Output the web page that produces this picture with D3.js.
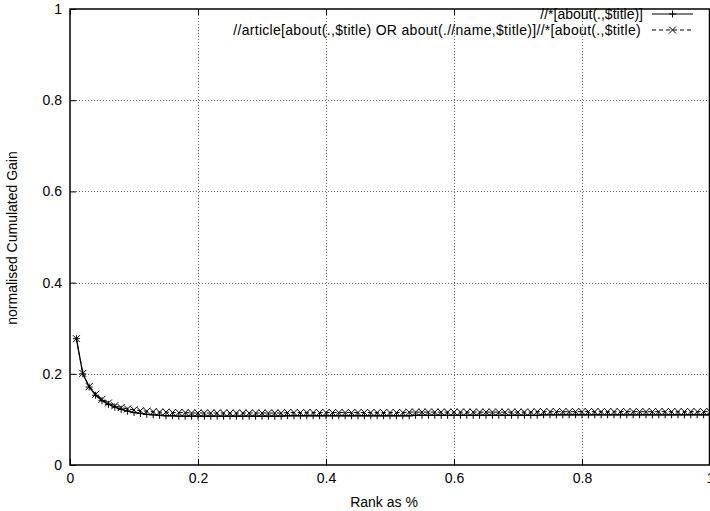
<!DOCTYPE html>
<html>
<head>
<meta charset="utf-8">
<script src="https://cdn.jsdelivr.net/npm/d3@7"></script>
<style>
  body { margin: 0; background: #fff; }
  text { font-family: "Liberation Sans", Arial, Helvetica, sans-serif; font-size: 14px; fill: #000; }
</style>
</head>
<body>
<div id="graphContainer"></div>
<script>
// rank as % (x axis)
var rank = [0.01,0.02,0.03,0.04,0.05,0.06,0.07,0.08,0.09,0.10,
  0.11,0.12,0.13,0.14,0.15,0.16,0.17,0.18,0.19,0.20,
  0.21,0.22,0.23,0.24,0.25,0.26,0.27,0.28,0.29,0.30,
  0.31,0.32,0.33,0.34,0.35,0.36,0.37,0.38,0.39,0.40,
  0.41,0.42,0.43,0.44,0.45,0.46,0.47,0.48,0.49,0.50,
  0.51,0.52,0.53,0.54,0.55,0.56,0.57,0.58,0.59,0.60,
  0.61,0.62,0.63,0.64,0.65,0.66,0.67,0.68,0.69,0.70,
  0.71,0.72,0.73,0.74,0.75,0.76,0.77,0.78,0.79,0.80,
  0.81,0.82,0.83,0.84,0.85,0.86,0.87,0.88,0.89,0.90,
  0.91,0.92,0.93,0.94,0.95,0.96,0.97,0.98,0.99,1.00];

// //*[about(.,$title)]
var gainPlain = [0.277,0.200,0.171,0.153,0.141,0.133,0.127,0.122,0.118,0.115,
  0.113,0.111,0.110,0.109,0.108,0.108,0.107,0.107,0.107,0.107,
  0.107,0.107,0.107,0.107,0.107,0.107,0.107,0.107,0.107,0.107,
  0.107,0.107,0.107,0.108,0.108,0.108,0.108,0.108,0.108,0.108,
  0.108,0.108,0.108,0.108,0.108,0.108,0.108,0.108,0.108,0.108,
  0.108,0.108,0.108,0.109,0.109,0.109,0.109,0.109,0.109,0.109,
  0.109,0.109,0.109,0.109,0.109,0.109,0.109,0.109,0.109,0.109,
  0.109,0.109,0.109,0.110,0.110,0.110,0.110,0.110,0.110,0.110,
  0.110,0.110,0.110,0.110,0.110,0.110,0.110,0.110,0.110,0.110,
  0.110,0.110,0.110,0.110,0.110,0.110,0.110,0.110,0.110,0.110];

// //article[...]//*[about(.,$title)
var gainArticle = [0.277,0.201,0.172,0.155,0.144,0.136,0.130,0.126,0.123,0.121,
  0.119,0.118,0.117,0.116,0.116,0.115,0.115,0.115,0.114,0.114,
  0.114,0.114,0.114,0.114,0.114,0.114,0.114,0.114,0.114,0.114,
  0.114,0.114,0.114,0.115,0.115,0.115,0.115,0.115,0.115,0.115,
  0.115,0.115,0.115,0.115,0.115,0.115,0.115,0.115,0.115,0.115,
  0.115,0.115,0.116,0.116,0.116,0.116,0.116,0.116,0.116,0.116,
  0.116,0.116,0.116,0.116,0.116,0.116,0.116,0.116,0.116,0.116,
  0.116,0.116,0.117,0.117,0.117,0.117,0.117,0.117,0.117,0.117,
  0.117,0.117,0.117,0.117,0.117,0.117,0.117,0.117,0.117,0.117,
  0.117,0.117,0.117,0.117,0.117,0.117,0.117,0.117,0.117,0.117];

var seriesNames = ["//*[about(.,$title)]",
  "//article[about(.,$title) OR about(.//name,$title)]//*[about(.,$title)"];

var xTicks = [0, 0.2, 0.4, 0.6, 0.8, 1];
var yTicks = [0, 0.2, 0.4, 0.6, 0.8, 1];

var width = 710, height = 511;
var plotLeft = 70, plotRight = 709.5, plotTop = 9, plotBottom = 465;

var x = d3.scaleLinear().domain([0, 1]).range([plotLeft, 710]);
var y = d3.scaleLinear().domain([0, 1]).range([plotBottom, plotTop]);

var svg = d3.select("#graphContainer")
  .append("svg")
    .attr("width", width)
    .attr("height", height);

// grid
var grid = svg.append("g")
  .attr("stroke", "#666")
  .attr("stroke-width", 1)
  .attr("stroke-dasharray", "1,2");
grid.selectAll(".gx")
  .data(xTicks.filter(function(d) { return d > 0 && d < 1; }))
  .enter().append("line")
    .attr("x1", function(d) { return Math.round(x(d)) + 0.5; })
    .attr("x2", function(d) { return Math.round(x(d)) + 0.5; })
    .attr("y1", plotTop)
    .attr("y2", plotBottom);
grid.selectAll(".gy")
  .data(yTicks.filter(function(d) { return d > 0 && d < 1; }))
  .enter().append("line")
    .attr("x1", plotLeft)
    .attr("x2", plotRight)
    .attr("y1", function(d) { return Math.round(y(d)) + 0.5; })
    .attr("y2", function(d) { return Math.round(y(d)) + 0.5; });

// axes, ticks pointing inward like gnuplot
function styleAxis(g) {
  g.attr("font-size", null).attr("font-family", null);
  g.select(".domain").remove();
  g.selectAll(".tick line").attr("stroke", "#000");
}

svg.append("g")
  .attr("transform", "translate(0," + plotBottom + ")")
  .call(d3.axisBottom(x).tickValues(xTicks).tickSize(-6).tickPadding(8)
    .tickFormat(d3.format("")))
  .call(styleAxis);

svg.append("g")
  .attr("transform", "translate(0," + plotTop + ")")
  .call(d3.axisTop(x).tickValues(xTicks).tickSize(-6).tickFormat(""))
  .call(styleAxis);

svg.append("g")
  .attr("transform", "translate(" + plotLeft + ",0)")
  .call(d3.axisLeft(y).tickValues(yTicks).tickSize(-6).tickPadding(8)
    .tickFormat(d3.format("")))
  .call(styleAxis);

// border
svg.append("rect")
  .attr("x", plotLeft)
  .attr("y", plotTop)
  .attr("width", plotRight - plotLeft)
  .attr("height", plotBottom - plotTop)
  .attr("fill", "none")
  .attr("stroke", "#000")
  .attr("stroke-width", 1.5);

// axis titles
svg.append("text")
  .attr("x", 384)
  .attr("y", 507)
  .attr("text-anchor", "middle")
  .text("Rank as %");

svg.append("text")
  .attr("transform", "translate(17,238) rotate(-90)")
  .attr("text-anchor", "middle")
  .text("normalised Cumulated Gain");

// series
var line = d3.line()
  .x(function(d) { return x(d[0]); })
  .y(function(d) { return y(d[1]); });

var plainData = rank.map(function(r, i) { return [r, gainPlain[i]]; });
var articleData = rank.map(function(r, i) { return [r, gainArticle[i]]; });

var plot = svg.append("g");

plot.append("path")
  .datum(articleData)
  .attr("d", line)
  .attr("fill", "none")
  .attr("stroke", "#000")
  .attr("stroke-width", 1)
  .attr("stroke-dasharray", "4,3");

plot.append("path")
  .datum(plainData)
  .attr("d", line)
  .attr("fill", "none")
  .attr("stroke", "#000")
  .attr("stroke-width", 1.3);

var s = 3.5;
function plusPath(cx, cy) {
  return "M" + (cx - s) + "," + cy + "H" + (cx + s) + "M" + cx + "," + (cy - s) + "V" + (cy + s);
}
function crossPath(cx, cy) {
  return "M" + (cx - s) + "," + (cy - s) + "L" + (cx + s) + "," + (cy + s) +
    "M" + (cx - s) + "," + (cy + s) + "L" + (cx + s) + "," + (cy - s);
}

plot.selectAll(".plus")
  .data(plainData)
  .enter().append("path")
    .attr("d", function(d) { return plusPath(x(d[0]), y(d[1])); })
    .attr("stroke", "#000")
    .attr("stroke-width", 1);

plot.selectAll(".cross")
  .data(articleData)
  .enter().append("path")
    .attr("d", function(d) { return crossPath(x(d[0]), y(d[1])); })
    .attr("stroke", "#000")
    .attr("stroke-width", 1);

// legend
var legend = svg.append("g");
var legendY = [14, 30];
var legendEnd = [643, 641];
var spacing = [0, 0.3];
var markers = [plusPath, crossPath];
var dashes = [null, "4,3"];
seriesNames.forEach(function(name, i) {
  legend.append("text")
    .attr("x", legendEnd[i])
    .attr("y", legendY[i])
    .attr("dy", "0.35em")
    .attr("text-anchor", "end")
    .style("letter-spacing", spacing[i] + "px")
    .text(name);
  legend.append("line")
    .attr("x1", 652).attr("x2", 693)
    .attr("y1", legendY[i]).attr("y2", legendY[i])
    .attr("stroke", "#000")
    .attr("stroke-dasharray", dashes[i]);
  legend.append("path")
    .attr("d", markers[i](672.5, legendY[i]))
    .attr("stroke", "#000");
});
</script>
</body>
</html>
